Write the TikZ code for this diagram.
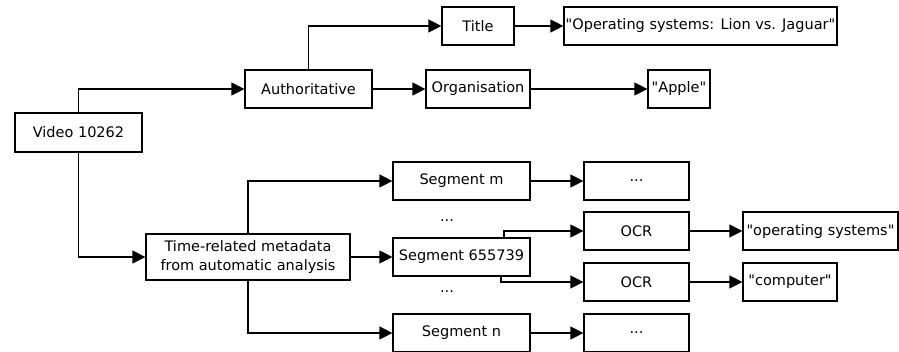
\documentclass[tikz,border=0pt]{standalone}
\usepackage{fontspec}
\setmainfont{DejaVu Sans}[Ligatures=TeXOff]
\usetikzlibrary{arrows.meta,positioning}
\tikzset{
  box/.style={draw, line width=1.2pt, inner sep=1pt, align=center,
    font=\fontsize{14.5}{19}\selectfont},
  link/.style={line width=1.2pt, -{Triangle[length=13pt,width=13pt]}},
  gap/.style={font=\fontsize{14.5}{19}\selectfont, inner sep=0pt}
}
\begin{document}
\begin{tikzpicture}[x=1pt,y=1pt]
\useasboundingbox (0,0) rectangle (899,351);
% upper branch: authoritative metadata
\node[box, minimum width=127pt, minimum height=39pt] (video) at (78.5,218.5) {Video 10262};
\node[box, minimum width=127pt, minimum height=38pt] (auth) at (308.5,262) {Authoritative};
\node[box, minimum width=72pt, minimum height=38pt] (title) at (478,325) {Title};
\node[box, minimum width=273pt, minimum height=38pt] (opsys) at (700.5,325) {"Operating systems: Lion vs. Jaguar"};
\node[box, minimum width=104pt, minimum height=38pt] (org) at (478,262) {Organisation};
\node[box, minimum width=62pt, minimum height=38pt] (apple) at (679,262) {"Apple"};
% lower branch: automatic analysis
\node[box, minimum width=204pt, minimum height=46pt] (time) at (248,94) {Time-related metadata\\from automatic analysis};
\node[box, minimum width=137pt, minimum height=38pt] (segm) at (461.5,170) {Segment m};
\node[box, minimum width=137pt, minimum height=38pt] (seg6) at (461.5,94) {Segment 655739};
\node[box, minimum width=137pt, minimum height=38pt] (segn) at (461.5,18) {Segment n};
\node[gap] (dotsa) at (447,130) {...};
\node[gap] (dotsb) at (447,59) {...};
\node[box, minimum width=105pt, minimum height=38pt] (resm) at (636.5,170) {...};
\node[box, minimum width=105pt, minimum height=38pt] (resn) at (636.5,18) {...};
\node[box, minimum width=105pt, minimum height=38pt] (ocra) at (636.5,120) {OCR};
\node[box, minimum width=105pt, minimum height=38pt] (ocrb) at (636.5,69) {OCR};
\node[box, minimum width=155pt, minimum height=38pt] (txta) at (820.5,120) {"operating systems"};
\node[box, minimum width=94pt, minimum height=38pt] (txtb) at (790,69) {"computer"};
% connectors
\draw[link] (video.north) |- (auth.west);
\draw[link] (auth.north) |- (title.west);
\draw[link] (title) -- (opsys);
\draw[link] (auth) -- (org);
\draw[link] (org) -- (apple);
\draw[link] (video.south) |- (time.west);
\draw[link] (time.north) |- (segm.west);
\draw[link] (time) -- (seg6);
\draw[link] (time.south) |- (segn.west);
\draw[link] (segm) -- (resm);
\draw[link] (segn) -- (resn);
\draw[link] ([xshift=42.5pt]seg6.north) |- (ocra.west);
\draw[link] ([xshift=39.5pt]seg6.south) |- (ocrb.west);
\draw[link] (ocra) -- (txta);
\draw[link] (ocrb) -- (txtb);
\end{tikzpicture}
\end{document}
